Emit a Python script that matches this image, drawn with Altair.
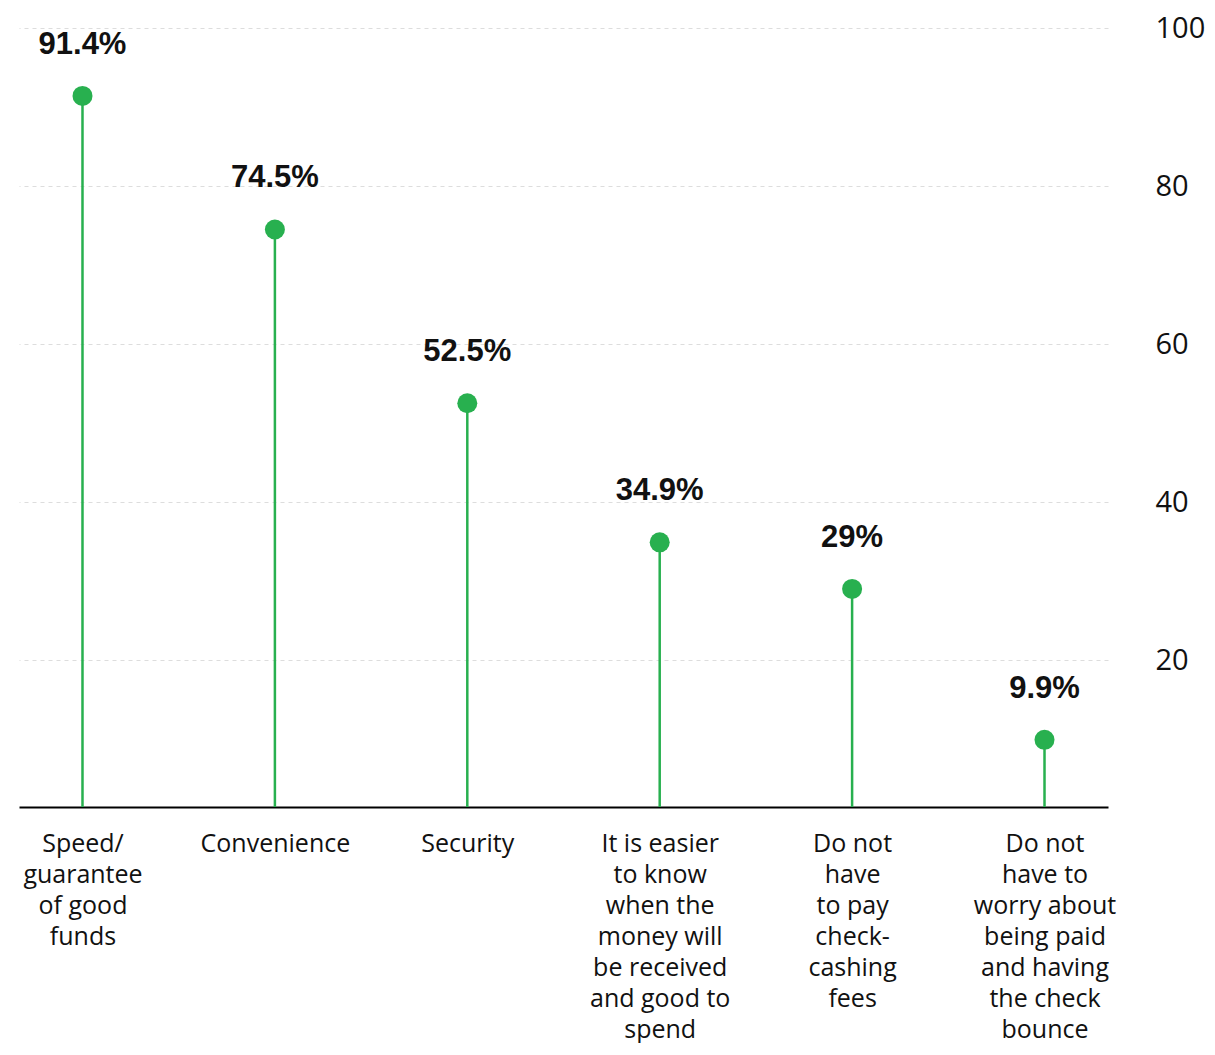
import altair as alt
import pandas as pd

categories = [
    "Speed/|guarantee|of good|funds",
    "Convenience",
    "Security",
    "It is easier|to know|when the|money will|be received|and good to|spend",
    "Do not|have|to pay|check-|cashing|fees",
    "Do not|have to|worry about|being paid|and having|the check|bounce",
]
values = [91.4, 74.5, 52.5, 34.9, 29.0, 9.9]
value_labels = ["91.4%", "74.5%", "52.5%", "34.9%", "29%", "9.9%"]
y_ticks = [20, 40, 60, 80, 100]
y_min = 1.4

df = pd.DataFrame({"cat": categories, "value": values, "label": value_labels, "base": [y_min] * len(values)})

GREEN = "#28b04f"
FONT = "Open Sans"

x = alt.X("cat:N", sort=categories, title=None,
          scale=alt.Scale(type="point", padding=0.33),
          axis=alt.Axis(labelExpr="split(datum.value, '|')", labelAngle=0, ticks=False,
                        labelPadding=24, labelFontSize=25, labelLineHeight=31,
                        labelFont=FONT, labelColor="#111111", domainColor="#000000",
                        domainWidth=2, grid=False, labelAlign="center"))
y = alt.Y("value:Q", title=None,
          scale=alt.Scale(domain=[y_min, 100], nice=False, zero=False),
          axis=alt.Axis(orient="right", values=y_ticks, domain=False, ticks=False,
                        labelPadding=47, labelAlign="left", labelFontSize=29,
                        labelFont=FONT, labelColor="#111111", gridColor="#dddddd",
                        gridDash=[4, 4], gridWidth=1))

base = alt.Chart(df)

stems = base.mark_rule(color=GREEN, strokeWidth=2.5).encode(x=x, y=y, y2="base:Q")
dots = base.mark_circle(color=GREEN, size=400, opacity=1).encode(x=x, y=y)
labels = base.mark_text(fontSize=31, fontWeight="bold", font="Liberation Sans",
                        color="#111111", baseline="middle", dy=-51).encode(x=x, y=y, text="label:N")

chart = alt.layer(stems, dots, labels).properties(
    width=1089, height=779,
    autosize=alt.AutoSizeParams(type="none"),
    padding={"top": 20, "left": 11, "right": 98, "bottom": 236},
).configure_view(stroke=None)

chart.save("out.html", embed_options={"renderer": "svg", "actions": False})
